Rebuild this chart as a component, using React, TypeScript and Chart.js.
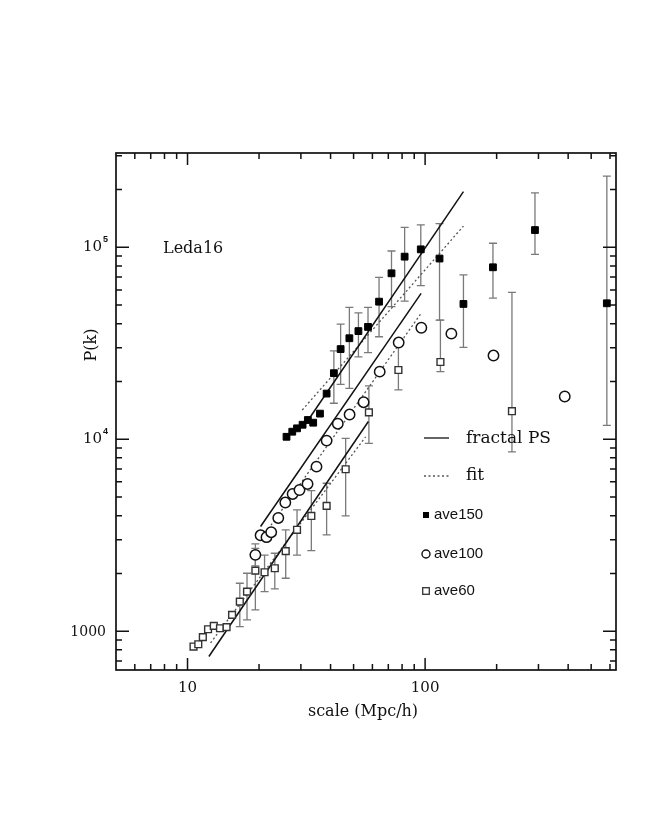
import React, { useEffect, useRef } from 'react';
import { Chart, registerables } from 'chart.js';

Chart.register(...registerables);

// ---- data ----
const ave150X = [26.1, 27.6, 28.9, 30.5, 32.1, 33.8, 36.1, 38.5, 41.3, 44.1, 48.0, 52.4, 57.5, 64.0, 72.2, 82.0, 95.9, 115, 145, 193, 290, 582];
const ave150Y = [10300, 10950, 11400, 11900, 12600, 12200, 13600, 17300, 22100, 29500, 33600, 36600, 38500, 52100, 73200, 89400, 97600, 87400, 50700, 78700, 123000, 51100];
const ave150Lo = [null, null, null, null, null, null, null, null, 15400, 19300, 18400, 26900, 28300, 34200, 49100, 52500, 63100, 41800, 30100, 54300, 91900, 11800];
const ave150Hi = [null, null, null, null, null, null, null, null, 28900, 39800, 48700, 45600, 48700, 69800, 95700, 127000, 131000, 133000, 71800, 105000, 192000, 235000];

const ave100X = [19.3, 20.3, 21.5, 22.5, 24.1, 25.8, 27.7, 29.6, 32.0, 34.9, 38.5, 42.9, 48.1, 55.1, 64.4, 77.4, 96.4, 129, 194, 387];
const ave100Y = [2500, 3160, 3090, 3280, 3890, 4680, 5190, 5440, 5850, 7200, 9840, 12050, 13450, 15600, 22500, 31900, 38100, 35500, 27300, 16700];
const ave100Lo = [2190, null, null, null, null, null, null, null, null, null, null, null, null, null, null, null, null, null, null, null];
const ave100Hi = [2850, null, null, null, null, null, null, null, null, null, null, null, null, null, null, null, null, null, null, null];

const ave60X = [10.6, 11.1, 11.6, 12.2, 12.9, 13.7, 14.6, 15.4, 16.6, 17.8, 19.3, 21.1, 23.3, 25.9, 28.9, 33.2, 38.5, 46.3, 58.0, 77.2, 116, 232];
const ave60Y = [832, 855, 931, 1024, 1066, 1036, 1050, 1216, 1426, 1607, 2069, 2028, 2128, 2612, 3375, 3986, 4500, 6980, 13800, 22960, 25270, 14000];
const ave60Lo = [null, null, null, null, null, null, null, null, 1057, 1146, 1291, 1607, 1660, 1888, 2494, 2630, 3175, 3987, 9530, 18100, 22500, 8590];
const ave60Hi = [null, null, null, null, null, null, null, null, 1778, 2005, 2700, 2494, 2548, 3370, 4290, 5400, 5900, 10100, 18970, 32000, 41800, 58300];

// fractal PS (solid) and fit (dotted) segments: [x0, x1], [y0, y1]
const fractal150X = [32.0, 145];
const fractal150Y = [12450, 195000];
const fractal100X = [20.3, 96.2];
const fractal100Y = [3510, 57500];
const fractal60X = [12.3, 57.7];
const fractal60Y = [738, 12370];
const fit150X = [30.4, 145];
const fit150Y = [14200, 129000];
const fit100X = [20.3, 96.2];
const fit100Y = [2990, 45300];
const fit60X = [12.5, 56.2];
const fit60Y = [869, 10300];

// tick labels
const xTickValues = [10, 100];
const xTickLabels = ['10', '100'];
const yTickValues = [1000, 10000, 100000];
const yTickLabels = [['1000', ''], ['10', '4'], ['10', '5']];

const X_MIN = 5;
const X_MAX = 636;
const Y_MIN = 628;
const Y_MAX = 310000;

const SERIF = '"DejaVu Serif", serif';
const SANS = '"Liberation Sans", Arial, sans-serif';

function pts(xs: number[], ys: number[]) {
  return xs.map((x, i) => ({ x, y: ys[i] }));
}

function minorList(lo: number, hi: number): number[] {
  const out: number[] = [];
  for (let d = 1; d <= 1e6; d *= 10) {
    for (let m = 2; m <= 9; m++) {
      const v = m * d;
      if (v >= lo && v <= hi) out.push(v);
    }
  }
  return out;
}
function majorList(lo: number, hi: number): number[] {
  const out: number[] = [];
  for (let d = 1; d <= 1e6; d *= 10) if (d >= lo && d <= hi) out.push(d);
  return out;
}

const errorSets = [
  { xs: ave150X, lo: ave150Lo, hi: ave150Hi },
  { xs: ave100X, lo: ave100Lo, hi: ave100Hi },
  { xs: ave60X, lo: ave60Lo, hi: ave60Hi },
];

const decorPlugin = {
  id: 'decor',
  beforeDatasetsDraw(chart: any) {
    const ctx = chart.ctx;
    const xs = chart.scales.x;
    const ys = chart.scales.y;
    ctx.save();
    ctx.strokeStyle = '#7a7a7a';
    ctx.lineWidth = 1.3;
    errorSets.forEach((s) => {
      s.xs.forEach((x, i) => {
        const lo = s.lo[i];
        const hi = s.hi[i];
        if (lo == null || hi == null) return;
        const px = xs.getPixelForValue(x);
        const y1 = ys.getPixelForValue(lo);
        const y2 = ys.getPixelForValue(hi);
        ctx.beginPath();
        ctx.moveTo(px, y1);
        ctx.lineTo(px, y2);
        ctx.moveTo(px - 4, y1);
        ctx.lineTo(px + 4, y1);
        ctx.moveTo(px - 4, y2);
        ctx.lineTo(px + 4, y2);
        ctx.stroke();
      });
    });
    ctx.restore();
  },
  afterDraw(chart: any) {
    const ctx = chart.ctx;
    const xs = chart.scales.x;
    const ys = chart.scales.y;
    const { left, right, top, bottom } = chart.chartArea;
    ctx.save();
    // frame
    ctx.strokeStyle = '#111';
    ctx.lineWidth = 1.7;
    ctx.strokeRect(left, top, right - left, bottom - top);

    // ticks
    ctx.lineWidth = 1.5;
    const drawX = (v: number, len: number) => {
      const px = xs.getPixelForValue(v);
      if (px <= left + 0.5 || px >= right - 0.5) return;
      ctx.beginPath();
      ctx.moveTo(px, bottom);
      ctx.lineTo(px, bottom - len);
      ctx.moveTo(px, top);
      ctx.lineTo(px, top + len);
      ctx.stroke();
    };
    const drawY = (v: number, len: number) => {
      const py = ys.getPixelForValue(v);
      if (py <= top + 0.5 || py >= bottom - 0.5) return;
      ctx.beginPath();
      ctx.moveTo(left, py);
      ctx.lineTo(left + len, py);
      ctx.moveTo(right, py);
      ctx.lineTo(right - len, py);
      ctx.stroke();
    };
    minorList(X_MIN, X_MAX).forEach((v) => drawX(v, 6));
    majorList(X_MIN, X_MAX).forEach((v) => drawX(v, 12));
    minorList(Y_MIN, Y_MAX).forEach((v) => drawY(v, 6));
    majorList(Y_MIN, Y_MAX).forEach((v) => drawY(v, 13));

    // tick labels
    ctx.fillStyle = '#111';
    ctx.font = `15px ${SERIF}`;
    ctx.textAlign = 'center';
    ctx.textBaseline = 'middle';
    xTickValues.forEach((v, i) => {
      ctx.fillText(xTickLabels[i], xs.getPixelForValue(v), bottom + 18);
    });
    yTickValues.forEach((v, i) => {
      const py = ys.getPixelForValue(v);
      const [base, sup] = yTickLabels[i];
      const rx = left - 8;
      ctx.textAlign = 'right';
      if (sup) {
        ctx.font = `bold 9px ${SANS}`;
        const sw = ctx.measureText(sup).width;
        ctx.fillText(sup, rx, py - 8);
        ctx.font = `15px ${SERIF}`;
        ctx.fillText(base, rx - sw - 1, py);
      } else {
        ctx.font = `14px ${SERIF}`;
        ctx.fillText(base, rx - 2, py + 1);
      }
    });

    // axis titles
    ctx.textAlign = 'center';
    ctx.font = `16px ${SERIF}`;
    ctx.fillText('scale (Mpc/h)', (left + right) / 2 - 3, bottom + 42);
    ctx.save();
    ctx.translate(left - 24, top + 192);
    ctx.rotate(-Math.PI / 2);
    ctx.font = `16px ${SERIF}`;
    ctx.fillText('P(k)', 0, 0);
    ctx.restore();

    // inner label
    ctx.textAlign = 'left';
    ctx.textBaseline = 'alphabetic';
    ctx.font = `16px ${SERIF}`;
    ctx.fillText('Leda16', left + 47, top + 100);

    // legend
    const lx = left + 308;
    const tx = left + 350;
    ctx.textBaseline = 'middle';
    ctx.strokeStyle = '#111';
    ctx.lineWidth = 1.3;
    let ly = top + 285;
    ctx.beginPath();
    ctx.moveTo(lx, ly);
    ctx.lineTo(lx + 25, ly);
    ctx.stroke();
    ctx.font = `17px ${SERIF}`;
    ctx.fillText('fractal PS', tx, ly + 1);

    ly = top + 323;
    ctx.strokeStyle = '#555';
    ctx.setLineDash([2, 2.5]);
    ctx.beginPath();
    ctx.moveTo(lx, ly);
    ctx.lineTo(lx + 25, ly);
    ctx.stroke();
    ctx.setLineDash([]);
    ctx.fillText('fit', tx, ly);

    ctx.font = `15px ${SANS}`;
    const mx = lx + 2;
    const stx = lx + 10;
    ly = top + 362;
    ctx.fillStyle = '#000';
    ctx.fillRect(mx - 3, ly - 3, 6, 6);
    ctx.fillStyle = '#111';
    ctx.fillText('ave150', stx, ly);

    ly = top + 401;
    ctx.strokeStyle = '#111';
    ctx.lineWidth = 1.4;
    ctx.beginPath();
    ctx.arc(mx, ly, 4, 0, Math.PI * 2);
    ctx.stroke();
    ctx.fillText('ave100', stx, ly);

    ly = top + 438;
    ctx.strokeStyle = '#333';
    ctx.lineWidth = 1.3;
    ctx.strokeRect(mx - 3.3, ly - 3.3, 6.6, 6.6);
    ctx.fillText('ave60', stx, ly);

    ctx.restore();
  },
};

export default function App() {
  const ref = useRef<HTMLCanvasElement | null>(null);
  useEffect(() => {
    if (!ref.current) return;
    const solid = (xs: number[], ys: number[]) => ({
      type: 'line' as const,
      data: pts(xs, ys),
      borderColor: '#111',
      borderWidth: 1.5,
      pointRadius: 0,
      showLine: true,
      fill: false,
      order: 5,
    });
    const dotted = (xs: number[], ys: number[]) => ({
      type: 'line' as const,
      data: pts(xs, ys),
      borderColor: '#555',
      borderWidth: 1.3,
      borderDash: [2, 2.5],
      pointRadius: 0,
      showLine: true,
      fill: false,
      order: 6,
    });
    const chart = new Chart(ref.current, {
      type: 'scatter',
      data: {
        datasets: [
          solid(fractal150X, fractal150Y),
          solid(fractal100X, fractal100Y),
          solid(fractal60X, fractal60Y),
          dotted(fit150X, fit150Y),
          dotted(fit100X, fit100Y),
          dotted(fit60X, fit60Y),
          {
            label: 'ave150',
            data: pts(ave150X, ave150Y),
            pointStyle: 'rect',
            pointRadius: 4.8,
            backgroundColor: '#000',
            borderColor: '#000',
            borderWidth: 1,
            order: 1,
          },
          {
            label: 'ave100',
            data: pts(ave100X, ave100Y),
            pointStyle: 'circle',
            pointRadius: 5.2,
            backgroundColor: '#fff',
            borderColor: '#111',
            borderWidth: 1.5,
            order: 2,
          },
          {
            label: 'ave60',
            data: pts(ave60X, ave60Y),
            pointStyle: 'rect',
            pointRadius: 4.8,
            backgroundColor: '#fff',
            borderColor: '#333',
            borderWidth: 1.4,
            order: 3,
          },
        ] as any,
      },
      options: {
        animation: false,
        responsive: false,
        maintainAspectRatio: false,
        layout: { padding: { top: 153, right: 38, bottom: 60, left: 0 } },
        plugins: {
          legend: { display: false },
          tooltip: { enabled: false },
        },
        scales: {
          x: {
            type: 'logarithmic',
            min: X_MIN,
            max: X_MAX,
            grid: { display: false },
            border: { display: false },
            ticks: { display: false },
            afterFit: (s: any) => {
              s.height = 85;
            },
          },
          y: {
            type: 'logarithmic',
            min: Y_MIN,
            max: Y_MAX,
            grid: { display: false },
            border: { display: false },
            ticks: { display: false },
            afterFit: (s: any) => {
              s.width = 116;
            },
          },
        },
      } as any,
      plugins: [decorPlugin],
    });
    return () => chart.destroy();
  }, []);
  return (
    <div style={{ position: 'absolute', left: 0, top: 0, width: 654, height: 815, background: '#fff' }}>
      <canvas ref={ref} width={654} height={815} style={{ width: 654, height: 815 }} />
    </div>
  );
}
